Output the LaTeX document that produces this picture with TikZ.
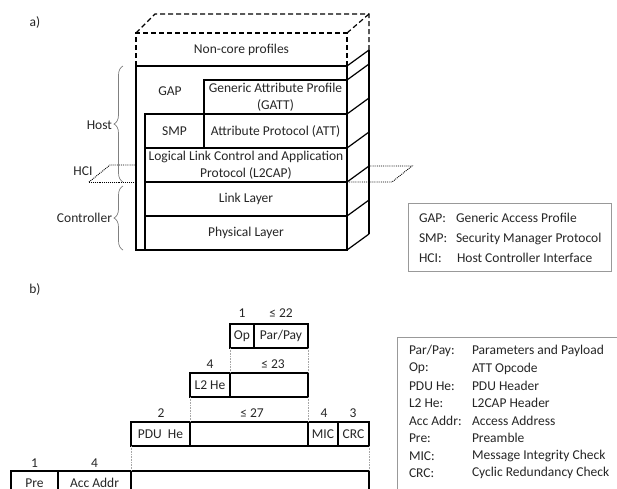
\documentclass[tikz,border=0pt]{standalone}
\usepackage{fontspec}
\setmainfont{Carlito}
\usetikzlibrary{decorations.pathreplacing}
\tikzset{
  every node/.style={font=\fontsize{13.5}{16.5}\selectfont, inner sep=0pt, outer sep=0pt, text=black!85},
  layer/.style={draw, line width=1.2pt, align=center},
  fbox/.style={draw, line width=1.2pt, minimum height=24pt},
  lbl/.style={anchor=center},
  guide/.style={draw=gray!70, densely dotted, line width=0.6pt},
  hciline/.style={densely dotted, line width=0.9pt},
  edge3d/.style={line width=1.2pt},
  dash3d/.style={line width=1.2pt, dash pattern=on 5pt off 3pt},
  bracestyle/.style={draw=gray, line width=0.7pt, decorate, decoration={brace, amplitude=9pt}},
  legendbox/.style={draw=gray!80, line width=0.9pt},
}
\begin{document}
\begin{tikzpicture}[x=1pt,y=-1pt]
\useasboundingbox (0,0) rectangle (617,488);
\clip (0,0) rectangle (617,488);
\fill[white] (0,0) rectangle (617,488);

% ---------- a) ----------
\node (la) at (35,22) {a)};

% HCI plane (behind stack)
\draw[hciline] (89,182) -- (110,165) -- (136,165);
\draw[hciline] (89,182) -- (136,182);
\draw[hciline] (347,182) -- (392,182) -- (412,166) -- (369,166);

% dashed top (non-core)
\draw[dash3d] (136,66) -- (136,33) -- (347,33) -- (347,66);
\draw[dash3d] (136,33) -- (155,14) -- (369,14) -- (369,50);
\draw[dash3d] (347,33) -- (369,14);
\node (noncore) at (241.5,50) {Non-core profiles};

% host frame
\draw[edge3d] (136,66) rectangle (347,250);
\node (gap) at (170,91) {GAP};
\node[layer, minimum width=143pt, minimum height=34pt] (gatt) at (275.5,97) {Generic Attribute Profile\\(GATT)};
\node[layer, minimum width=59pt, minimum height=34pt] (smp) at (174.5,131) {SMP};
\node[layer, minimum width=143pt, minimum height=34pt] (att) at (275.5,131) {Attribute Protocol (ATT)};
\node[layer, minimum width=202pt, minimum height=34pt] (l2cap) at (246,165) {Logical Link Control and Application\\Protocol (L2CAP)};
\node[layer, minimum width=202pt, minimum height=34pt] (link) at (246,199) {Link Layer};
\node[layer, minimum width=202pt, minimum height=34pt] (phy) at (246,233) {Physical Layer};

% right side face
\draw[edge3d] (369,50) -- (369,234);
\foreach \yy in {66,80,114,148,182,216,250}{
  \draw[edge3d] (347,\yy) -- (369,\yy-16);
}

% braces
\draw[bracestyle] (123,182) -- (123,66);
\draw[bracestyle] (123,250) -- (123,186);
\node[anchor=east] (host) at (112,125) {Host};
\node[anchor=east] (ctrl) at (112,218) {Controller};
\node (hci) at (83,171) {HCI};

% legend a
\draw[legendbox] (408,203) rectangle (611,271);
\node[anchor=west] (ga1) at (419,218) {GAP:};
\node[anchor=west] (ga2) at (456,218) {Generic Access Profile};
\node[anchor=west] (sm1) at (419,238.5) {SMP:};
\node[anchor=west] (sm2) at (456,238.5) {Security Manager Protocol};
\node[anchor=west] (hc1) at (419,258) {HCI:};
\node[anchor=west] (hc2) at (457,258) {Host Controller Interface};

% ---------- b) ----------
\node (lb) at (35,289) {b)};

% ATT layer
\node[lbl] (n1) at (242,313) {1};
\node[lbl] (n22) at (281,313) {≤ 22};
\node[fbox, minimum width=24pt] (op) at (242,336) {Op};
\node[fbox, minimum width=54pt] (parpay) at (281,336) {Par/Pay};

% L2CAP layer
\node[lbl] (n4a) at (210,364) {4};
\node[lbl] (n23) at (273,364) {≤ 23};
\node[fbox, minimum width=40pt] (l2he) at (210,385) {L2 He};
\node[fbox, minimum width=78pt] (l2pay) at (269,385) {};

% PDU layer
\node[lbl] (n2) at (161,413) {2};
\node[lbl] (n27) at (252,413) {≤ 27};
\node[lbl] (n4b) at (324,413) {4};
\node[lbl] (n3) at (353,413) {3};
\node[fbox, minimum width=59pt] (pduhe) at (160.5,434) {PDU\ \ He};
\node[minimum width=118pt, minimum height=24pt] (pdupay) at (249,434) {};
\draw[line width=1.2pt] (pdupay.north east) -- (pdupay.north west) -- (pdupay.south west) -- (pdupay.south east);
\draw[line width=1.4pt, densely dotted] (pdupay.north east) -- (pdupay.south east);
\node[fbox, minimum width=30pt] (mic) at (323,434) {MIC};
\node[fbox, minimum width=31pt] (crc) at (353.5,434) {CRC};

% Link layer
\node[lbl] (n1b) at (34.5,463) {1};
\node[lbl] (n4c) at (94.5,463) {4};
\node[fbox, minimum width=47pt] (pre) at (34.5,483) {Pre};
\node[fbox, minimum width=73pt] (acc) at (94.5,483) {Acc Addr};
\node[fbox, minimum width=238pt] (llpay) at (250,483) {};

% guides
\draw[guide] (op.south west) -- (l2pay.north west);
\draw[guide] (parpay.south east) -- (l2pay.north east);
\draw[guide] (l2he.south west) -- (pdupay.north west);
\draw[guide] (l2pay.south east) -- (pdupay.north east);
\draw[guide] (pduhe.south west) -- (llpay.north west);
\draw[guide] (crc.south east) -- (llpay.north east);

% legend b
\draw[legendbox] (397,337) rectangle (650,520);
\foreach \t/\d [count=\i from 0] in {{Par/Pay:}/Parameters and Payload, Op:/ATT Opcode, PDU He:/PDU Header, L2 He:/L2CAP Header, Acc Addr:/Access Address, Pre:/Preamble, MIC:/Message Integrity Check, CRC:/Cyclic Redundancy Check}{
  \node[anchor=west] (lt\i) at (409,351+17.45*\i) {\t};
  \node[anchor=west] (ld\i) at (472,351+17.45*\i) {\d};
}
\end{tikzpicture}
\end{document}
